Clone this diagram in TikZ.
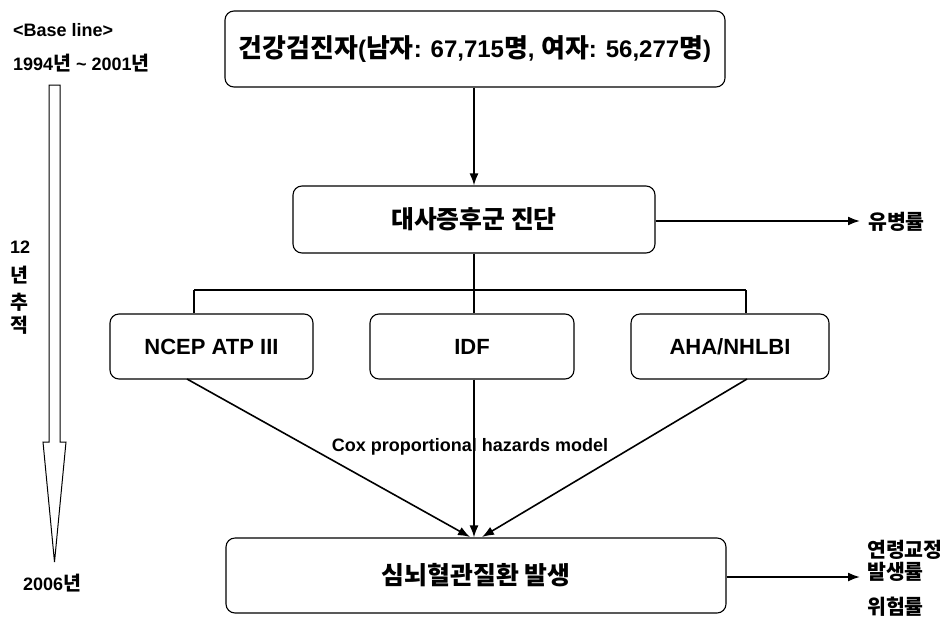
\documentclass[tikz,border=0pt]{standalone}
\usepackage{fontspec}
\setmainfont{Liberation Sans}
\newfontfamily\kr{Noto Sans CJK KR}[Scale=1.08]
\newcommand{\K}[1]{{\kr\bfseries #1}}
\usetikzlibrary{arrows.meta}
\begin{document}
\begin{tikzpicture}[x=1pt,y=-1pt,
  box/.style={draw, line width=1.1pt, rounded corners=9pt, inner sep=0pt, font=\bfseries},
  conn/.style={line width=1.8pt},
  arr/.style={conn, -{Latex[length=12pt,width=9pt]}},
  lbl/.style={anchor=west, inner sep=0pt, font=\bfseries}]
\useasboundingbox (0,0) rectangle (949,616);
% boxes
\node[box, minimum width=500pt, minimum height=76pt, font=\bfseries\fontsize{24}{26}\selectfont] (top) at (475,49)
  {\K{건강검진자}(\K{남자}: 67,715\K{명}, \K{여자}: 56,277\K{명})};
\node[box, minimum width=362pt, minimum height=67pt, font=\bfseries\fontsize{23}{25}\selectfont] (diag) at (474,219.5) {\K{대사증후군 진단}};
\node[box, minimum width=203pt, minimum height=65pt, font=\bfseries\fontsize{22}{24}\selectfont] (ncep) at (211.5,346.5) {NCEP ATP III};
\node[box, minimum width=204pt, minimum height=65pt, font=\bfseries\fontsize{22}{24}\selectfont] (idf) at (472,346.5) {IDF};
\node[box, minimum width=198pt, minimum height=65pt, font=\bfseries\fontsize{22}{24}\selectfont] (aha) at (730,346.5) {AHA/NHLBI};
\node[box, minimum width=500pt, minimum height=75pt, font=\bfseries\fontsize{23}{25}\selectfont] (bot) at (476,575.5) {\K{심뇌혈관질환 발생}};
% coordinates
\coordinate (jc) at (474,290);
\coordinate (jl) at (194,290);
\coordinate (jr) at (746,290);
\coordinate (pe) at (860,221);
\coordinate (re) at (860,577);
% connectors
\draw[arr] (top.south -| jc) -- (diag.north -| jc);
\draw[arr] (diag.east |- pe) -- (pe);
\draw[conn] (diag.south -| jc) -- (jc);
\draw[conn] (jl) -- (jr);
\draw[conn] (jl) -- (ncep.north -| jl);
\draw[conn] (jc) -- (idf.north -| jc);
\draw[conn] (jr) -- (aha.north -| jr);
\coordinate (ns) at (187,379);
\coordinate (as) at (747,379);
\coordinate (nt) at (470,537);
\coordinate (at) at (482,537);
\draw[arr, line width=1.6pt] (ns) -- (nt);
\draw[arr] (idf.south -| jc) -- (bot.north -| jc);
\draw[arr, line width=1.6pt] (as) -- (at);
\draw[arr] (bot.east |- re) -- (re);
% labels
\node[anchor=center, inner sep=0pt, font=\bfseries\fontsize{18}{20}\selectfont] (cox) at (470,447) {Cox proportional hazards model};
\node[lbl, font=\fontsize{19}{22}\selectfont] (yb) at (868,222) {\K{유병률}};
\node[lbl, font=\fontsize{19}{22}\selectfont] (r1) at (867,550) {\K{연령교정}};
\node[lbl, font=\fontsize{19}{22}\selectfont] (r2) at (867,572) {\K{발생률}};
\node[lbl, font=\fontsize{19}{22}\selectfont] (r3) at (867,607) {\K{위험률}};
% left timeline
\node[lbl, font=\bfseries\fontsize{18}{20}\selectfont] (bl) at (13,30) {<Base line>};
\node[lbl, font=\bfseries\fontsize{18}{20}\selectfont] (yr) at (13,63) {1994\K{년} \textasciitilde{} 2001\K{년}};
\draw[line width=1pt, line join=miter] (49,85) -- (60,85) -- (60,442) -- (66,442) -- (54.5,562) -- (43,442) -- (49,442) -- cycle;
\node[lbl, font=\bfseries\fontsize{18}{20}\selectfont] (t1) at (10,247) {12};
\node[lbl, font=\fontsize{18}{20}\selectfont] (t2) at (10,275) {\K{년}};
\node[lbl, font=\fontsize{18}{20}\selectfont] (t3) at (10,302) {\K{추}};
\node[lbl, font=\fontsize{18}{20}\selectfont] (t4) at (10,325) {\K{적}};
\node[lbl, font=\bfseries\fontsize{18}{20}\selectfont] (y2) at (23,583) {2006\K{년}};
\end{tikzpicture}
\end{document}
